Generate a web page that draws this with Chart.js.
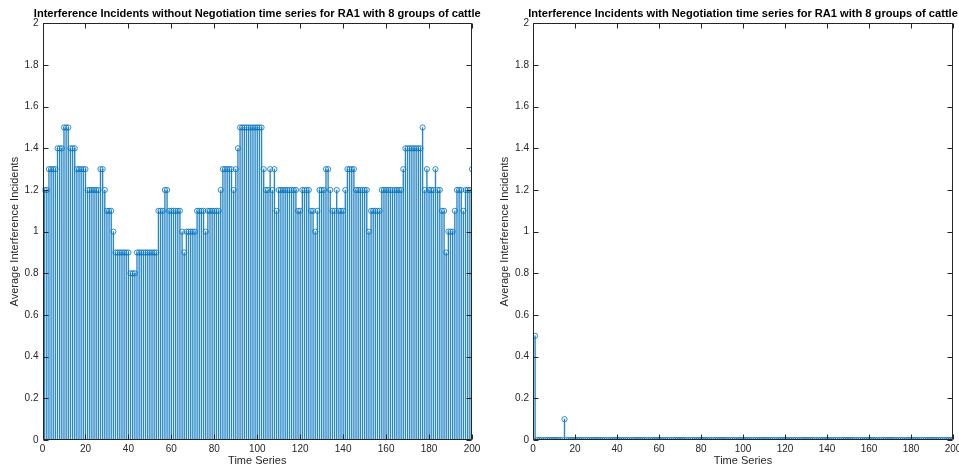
<!DOCTYPE html>
<html>
<head>
<meta charset="utf-8">
<script src="https://cdn.jsdelivr.net/npm/chart.js@4.4.1/dist/chart.umd.min.js"></script>
<style>
  html, body { margin: 0; padding: 0; background: #fff; overflow: hidden; }
  body { width: 959px; height: 468px; position: relative; overflow: hidden; }
  .box { position: absolute; top: 0; height: 468px; }
  #w1 { left: 0; width: 514px; }
  #w2 { left: 490px; width: 506px; }
</style>
</head>
<body>
<div class="box" id="w1"><canvas id="c1" width="514" height="468"></canvas></div>
<div class="box" id="w2"><canvas id="c2" width="506" height="468"></canvas></div>
<script>
// ---- data ----
const timeIndex = [
  1,2,3,4,5,6,7,8,9,10,11,12,13,14,15,16,17,18,19,20,
  21,22,23,24,25,26,27,28,29,30,31,32,33,34,35,36,37,38,39,40,
  41,42,43,44,45,46,47,48,49,50,51,52,53,54,55,56,57,58,59,60,
  61,62,63,64,65,66,67,68,69,70,71,72,73,74,75,76,77,78,79,80,
  81,82,83,84,85,86,87,88,89,90,91,92,93,94,95,96,97,98,99,100,
  101,102,103,104,105,106,107,108,109,110,111,112,113,114,115,116,117,118,119,120,
  121,122,123,124,125,126,127,128,129,130,131,132,133,134,135,136,137,138,139,140,
  141,142,143,144,145,146,147,148,149,150,151,152,153,154,155,156,157,158,159,160,
  161,162,163,164,165,166,167,168,169,170,171,172,173,174,175,176,177,178,179,180,
  181,182,183,184,185,186,187,188,189,190,191,192,193,194,195,196,197,198,199,200
];
const withoutNegotiation = [
  1.2,1.2,1.3,1.3,1.3,1.3,1.4,1.4,1.4,1.5,1.5,1.5,1.4,1.4,1.4,1.3,1.3,1.3,1.3,1.3,
  1.2,1.2,1.2,1.2,1.2,1.2,1.3,1.3,1.2,1.1,1.1,1.1,1.0,0.9,0.9,0.9,0.9,0.9,0.9,0.9,
  0.8,0.8,0.8,0.9,0.9,0.9,0.9,0.9,0.9,0.9,0.9,0.9,0.9,1.1,1.1,1.1,1.2,1.2,1.1,1.1,
  1.1,1.1,1.1,1.1,1.0,0.9,1.0,1.0,1.0,1.0,1.0,1.1,1.1,1.1,1.1,1.0,1.1,1.1,1.1,1.1,
  1.1,1.1,1.2,1.3,1.3,1.3,1.3,1.3,1.2,1.3,1.4,1.5,1.5,1.5,1.5,1.5,1.5,1.5,1.5,1.5,
  1.5,1.5,1.3,1.2,1.2,1.3,1.2,1.3,1.1,1.2,1.2,1.2,1.2,1.2,1.2,1.2,1.2,1.2,1.1,1.1,
  1.2,1.2,1.2,1.2,1.1,1.1,1.0,1.1,1.2,1.2,1.2,1.3,1.3,1.2,1.1,1.1,1.2,1.1,1.1,1.1,
  1.2,1.3,1.3,1.3,1.3,1.2,1.2,1.2,1.2,1.2,1.2,1.0,1.1,1.1,1.1,1.1,1.1,1.2,1.2,1.2,
  1.2,1.2,1.2,1.2,1.2,1.2,1.2,1.3,1.4,1.4,1.4,1.4,1.4,1.4,1.4,1.4,1.5,1.2,1.3,1.2,
  1.2,1.2,1.3,1.2,1.2,1.1,1.1,0.9,1.0,1.0,1.0,1.1,1.2,1.2,1.2,1.1,1.2,1.2,1.2,1.3
];
const withNegotiation = [
  0.5,0,0,0,0,0,0,0,0,0,0,0,0,0,0.1,0,0,0,0,0,
  0,0,0,0,0,0,0,0,0,0,0,0,0,0,0,0,0,0,0,0,
  0,0,0,0,0,0,0,0,0,0,0,0,0,0,0,0,0,0,0,0,
  0,0,0,0,0,0,0,0,0,0,0,0,0,0,0,0,0,0,0,0,
  0,0,0,0,0,0,0,0,0,0,0,0,0,0,0,0,0,0,0,0,
  0,0,0,0,0,0,0,0,0,0,0,0,0,0,0,0,0,0,0,0,
  0,0,0,0,0,0,0,0,0,0,0,0,0,0,0,0,0,0,0,0,
  0,0,0,0,0,0,0,0,0,0,0,0,0,0,0,0,0,0,0,0,
  0,0,0,0,0,0,0,0,0,0,0,0,0,0,0,0,0,0,0,0,
  0,0,0,0,0,0,0,0,0,0,0,0,0,0,0,0,0,0,0,0
];
const xTickValues = [0, 20, 40, 60, 80, 100, 120, 140, 160, 180, 200];
const yTickValues = [0, 0.2, 0.4, 0.6, 0.8, 1, 1.2, 1.4, 1.6, 1.8, 2];
const yTickLabels = ['0', '0.2', '0.4', '0.6', '0.8', '1', '1.2', '1.4', '1.6', '1.8', '2'];
const titles = [
  'Interference Incidents without Negotiation time series for RA1 with 8 groups of cattle',
  'Interference Incidents with Negotiation time series for RA1 with 8 groups of cattle'
];
const xAxisTitle = 'Time Series';
const yAxisTitle = 'Average Interference Incidents';

// ---- style ----
const FONT = '"Liberation Sans", Arial, Helvetica, sans-serif';
const INK = '#262626';
const STEM = 'rgb(0,114,189)';

const boxPlugin = {
  id: 'matlabBox',
  afterLayout(chart) {
    // let the title keep its natural width (centered over the plot area)
    const tb = chart.titleBlock;
    if (tb) { tb.left -= 40; tb.right += 40; }
  },
  afterDatasetsDraw(chart) {
    const { ctx, chartArea: a, scales: { x, y } } = chart;
    const L = Math.round(a.left) + 0.5, R = Math.round(a.right) - 0.5;
    const T = Math.round(a.top) + 0.5, B = Math.round(a.bottom) - 0.5;
    const tl = 5;
    ctx.save();
    ctx.strokeStyle = INK;
    ctx.lineWidth = 1;
    ctx.beginPath();
    ctx.rect(L, T, R - L, B - T);
    x.ticks.forEach(t => {
      const px = Math.round(x.getPixelForValue(t.value)) + 0.5;
      ctx.moveTo(px, B); ctx.lineTo(px, B - tl);
      ctx.moveTo(px, T); ctx.lineTo(px, T + tl);
    });
    y.ticks.forEach(t => {
      const py = Math.round(y.getPixelForValue(t.value)) + 0.5;
      ctx.moveTo(L, py); ctx.lineTo(L + tl, py);
      ctx.moveTo(R, py); ctx.lineTo(R - tl, py);
    });
    ctx.stroke();
    ctx.restore();
  }
};

function makeChart(canvasId, title, values, yAxisWidth, padRight) {
  const pts = timeIndex.map((t, i) => ({ x: t, y: values[i] }));
  return new Chart(document.getElementById(canvasId), {
    type: 'bar',
    data: {
      datasets: [
        {
          type: 'line',
          data: pts,
          showLine: false,
          pointStyle: 'circle',
          pointRadius: 2.6,
          pointBorderWidth: 0.8,
          pointBorderColor: STEM,
          pointBackgroundColor: 'rgba(0,0,0,0)',
          order: 0
        },
        {
          type: 'bar',
          data: pts,
          backgroundColor: 'rgba(0,114,189,0.85)',
          borderWidth: 0,
          barThickness: 0.7,
          order: 1
        }
      ]
    },
    options: {
      responsive: false,
      animation: false,
      events: [],
      layout: { padding: { left: 0, right: padRight, top: 0, bottom: 0 } },
      plugins: {
        legend: { display: false },
        tooltip: { enabled: false },
        title: {
          display: true,
          text: title,
          fullSize: false,
          color: '#000',
          font: { family: FONT, size: 11.1, weight: 'bold' },
          padding: { top: 7, bottom: 3 }
        }
      },
      scales: {
        x: {
          type: 'linear',
          min: 0, max: 200,
          offset: false,
          grid: { display: false, drawTicks: false, tickLength: 0 },
          border: { display: false },
          afterBuildTicks: s => { s.ticks = xTickValues.map(v => ({ value: v })); },
          ticks: { color: INK, font: { family: FONT, size: 10 }, padding: 3, maxRotation: 0, autoSkip: false },
          title: { display: true, text: xAxisTitle, color: INK, font: { family: FONT, size: 11 }, padding: { top: 0, bottom: 0 } },
          afterFit: s => { s.height = 28; s.paddingLeft = 0; s.paddingRight = 0; }
        },
        y: {
          min: 0, max: 2,
          grid: { display: false, drawTicks: false, tickLength: 0 },
          border: { display: false },
          afterBuildTicks: s => { s.ticks = yTickValues.map(v => ({ value: v })); },
          ticks: {
            color: INK, font: { family: FONT, size: 10 }, padding: 4, autoSkip: false,
            callback: (v, i) => yTickLabels[i]
          },
          title: { display: true, text: yAxisTitle, color: INK, font: { family: FONT, size: 11 }, padding: { top: 8, bottom: 0 } },
          afterFit: s => { s.width = yAxisWidth; s.paddingTop = 0; s.paddingBottom = 0; }
        }
      }
    },
    plugins: [boxPlugin]
  });
}

makeChart('c1', titles[0], withoutNegotiation, 42.5, 42);
makeChart('c2', titles[1], withNegotiation, 43, 43);
</script>
</body>
</html>
